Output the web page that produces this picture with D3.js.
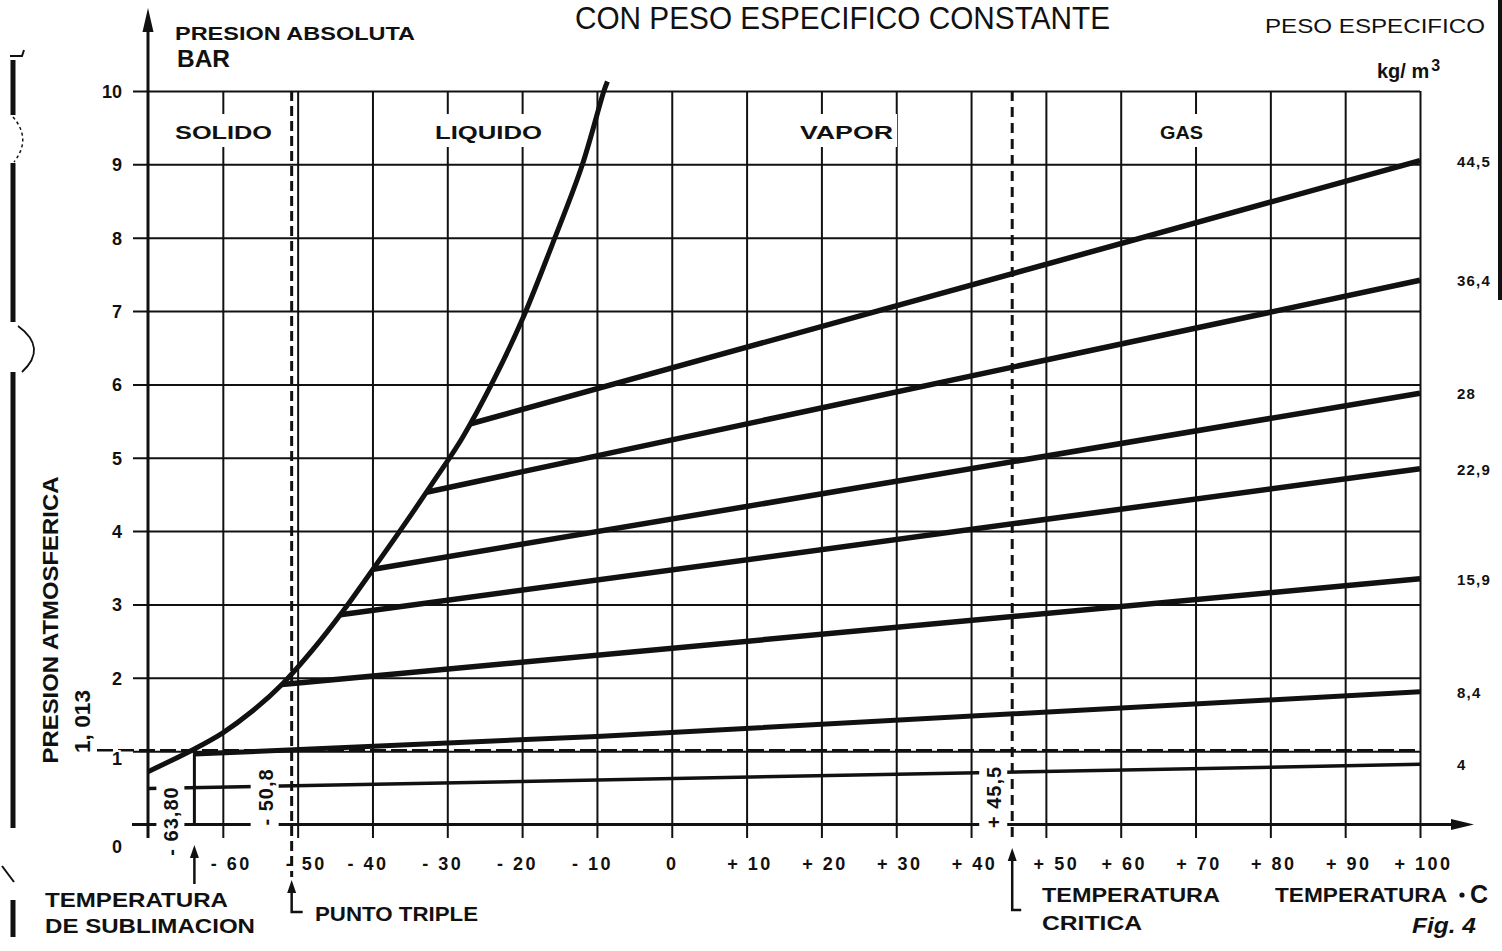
<!DOCTYPE html>
<html>
<head>
<meta charset="utf-8">
<script src="https://cdn.jsdelivr.net/npm/d3@7"></script>
<style>
  html, body { margin: 0; padding: 0; background: #fff; }
  svg { display: block; }
  text { font-family: "Liberation Sans", "DejaVu Sans", Arial, sans-serif; fill: #111; }
</style>
</head>
<body>
<svg id="chart" width="1502" height="951"></svg>
<script>
// Axis ticks: temperature (°C) and absolute pressure (bar)
const tempTicks  = [-60, -50, -40, -30, -20, -10, 0, 10, 20, 30, 40, 50, 60, 70, 80, 90, 100];
const pressTicks = [0, 1, 2, 3, 4, 5, 6, 7, 8, 9, 10];

// Sublimation / vapour-pressure curve, [°C, bar]
const satCurve = [
  [-70, 0.72], [-63.8, 1.03], [-60, 1.25], [-56, 1.55], [-52, 1.92],
  [-48, 2.38], [-44, 2.90], [-40, 3.47], [-36, 4.05], [-32, 4.65],
  [-28, 5.27], [-24, 6.02], [-20, 6.88], [-16, 7.90], [-12, 8.98],
  [-9.1, 9.99], [-8.6, 10.13]
];

// Lines of constant specific weight (kg/m3), [°C, bar]
const densityLabels = ["44,5", "36,4", "28", "22,9", "15,9", "8,4", "4"];
const iso445 = [[-27.0, 5.46], [100, 9.05]];
const iso364 = [[-32.8, 4.53], [100, 7.42]];
const iso28  = [[-39.9, 3.48], [100, 5.88]];
const iso229 = [[-44.3, 2.86], [100, 4.85]];
const iso159 = [[-52.1, 1.91], [100, 3.35]];
const iso84  = [[-63.8, 0.96], [-10, 1.20], [100, 1.81]];
const iso4   = [[-70, 0.49], [100, 0.82]];
const isoLines = [iso445, iso364, iso28, iso229, iso159, iso84, iso4];
const isoWidths = [5.5, 5.5, 5.5, 5.5, 5.5, 5, 3.5];

// Region names across the top band
const regions = ["SOLIDO", "LIQUIDO", "VAPOR", "GAS"];

// Characteristic temperatures (°C) and atmospheric pressure (bar)
const tSublimation = -63.8;
const tTriple = -50.8;
const tCritical = 45.5;
const pAtm = 1.013;
const tempMarks = ["- 63,80", "- 50,8", "+ 45,5"];

const ink = "#111";
const svg = d3.select("#chart");

const x = d3.scaleLinear().domain([-70, 100]).range([148, 1420]);
const y = d3.scaleLinear().domain([0, 10]).range([824.5, 91]);

const xLeft = x(-70), xRight = x(100), yTop = y(10), yZero = y(0);
const lineGen = d3.line().x(d => x(d[0])).y(d => y(d[1]));

// ---- page edge marks (binding side and right border) ----
const edge = svg.append("g").attr("stroke", ink).attr("fill", "none");
[[60, 115], [163, 322], [372, 828], [900, 937]].forEach(([a, b]) => {
  edge.append("line").attr("x1", 13).attr("x2", 13).attr("y1", a).attr("y2", b).attr("stroke-width", 5);
});
edge.append("path").attr("d", "M13,117 Q32,139 14,162").attr("stroke-width", 1.5).attr("stroke-dasharray", "3,3");
edge.append("path").attr("d", "M18,326 Q48,348 22,372").attr("stroke-width", 1.8);
edge.append("path").attr("d", "M10,56 L22,56 L24,50").attr("stroke-width", 2);
edge.append("path").attr("d", "M2,866 L14,882").attr("stroke-width", 2);
edge.append("line").attr("x1", 1500).attr("x2", 1500).attr("y1", 0).attr("y2", 300).attr("stroke-width", 4);

// ---- atmospheric pressure (dashed) ----
svg.append("line")
  .attr("x1", 97).attr("x2", xRight)
  .attr("y1", y(pAtm)).attr("y2", y(pAtm))
  .attr("stroke", ink).attr("stroke-width", 2.5).attr("stroke-dasharray", "16,5");

// ---- grid: vertical lines from the temperature axis ----
const fmtT = d => d < 0 ? "- " + (-d) : d === 0 ? "0" : "+ " + d;
const gx = svg.append("g")
  .attr("transform", `translate(0,${yZero + 13.5})`)
  .call(d3.axisBottom(x).tickValues(tempTicks)
    .tickSizeInner(-(yZero + 13.5 - yTop)).tickSizeOuter(0)
    .tickPadding(19).tickFormat(fmtT));
gx.select(".domain").remove();
gx.selectAll(".tick line").attr("stroke", ink).attr("stroke-width", 2);
gx.selectAll(".tick text")
  .attr("font-size", 18).attr("font-weight", "bold").attr("letter-spacing", 2.5)
  .attr("fill", ink)
  .attr("dx", d => (d === -60 || d === -50) ? 8 : d === 50 ? 10 : d < 0 ? -5 : d > 0 ? 3 : 0);

// ---- grid: horizontal lines from the pressure axis ----
const gy = svg.append("g")
  .attr("transform", `translate(${xLeft - 15},0)`)
  .call(d3.axisLeft(y).tickValues(pressTicks)
    .tickSizeInner(-(xRight - (xLeft - 15))).tickSizeOuter(0).tickPadding(11));
gy.select(".domain").remove();
gy.selectAll(".tick").filter(d => d === 0).select("line").remove();
gy.selectAll(".tick line").attr("stroke", ink).attr("stroke-width", 2);
gy.selectAll(".tick text")
  .attr("font-size", 18).attr("font-weight", "bold").attr("fill", ink)
  .attr("dy", d => d === 0 ? "1.55em" : d === 1 ? "0.76em" : "0.35em")
  .attr("stroke", "#fff").attr("stroke-width", 4).attr("paint-order", "stroke");

// ---- region names, with the grid cleared behind them ----
const regionX = [175, 435, 800, 1160];
const regionLen = [97, 107, 93, 43];
regions.forEach((r, i) => {
  svg.append("rect").attr("x", regionX[i] - 4).attr("y", 114)
    .attr("width", regionLen[i] + 8).attr("height", 33).attr("fill", "#fff");
  svg.append("text").attr("x", regionX[i]).attr("y", 138.5)
    .attr("font-size", 19).attr("font-weight", "bold")
    .attr("textLength", regionLen[i]).attr("lengthAdjust", "spacingAndGlyphs")
    .text(r);
});

// ---- main axes with arrows ----
svg.append("line").attr("x1", 132).attr("x2", 1458).attr("y1", yZero).attr("y2", yZero)
  .attr("stroke", ink).attr("stroke-width", 3);
svg.append("path").attr("d", `M1474,${yZero} L1451,${yZero - 5.5} L1451,${yZero + 5.5} Z`).attr("fill", ink);
svg.append("line").attr("x1", xLeft).attr("x2", xLeft).attr("y1", yZero + 13.5).attr("y2", 30)
  .attr("stroke", ink).attr("stroke-width", 3);
svg.append("path").attr("d", `M${xLeft},8 L${xLeft - 5.5},32 L${xLeft + 5.5},32 Z`).attr("fill", ink);

// ---- triple point and critical temperature (dashed verticals) ----
svg.append("line").attr("x1", x(tTriple)).attr("x2", x(tTriple)).attr("y1", yTop).attr("y2", 877)
  .attr("stroke", ink).attr("stroke-width", 3).attr("stroke-dasharray", "10,5");
svg.append("line").attr("x1", x(tCritical)).attr("x2", x(tCritical)).attr("y1", yTop).attr("y2", 837)
  .attr("stroke", ink).attr("stroke-width", 3).attr("stroke-dasharray", "10,6");

// ---- sublimation temperature: drop line to the axis ----
svg.append("line").attr("x1", x(tSublimation)).attr("x2", x(tSublimation))
  .attr("y1", y(pAtm)).attr("y2", yZero)
  .attr("stroke", ink).attr("stroke-width", 3);

// ---- lines of constant specific weight ----
svg.append("g").selectAll("path").data(isoLines).join("path")
  .attr("d", lineGen)
  .attr("fill", "none").attr("stroke", ink)
  .attr("stroke-width", (d, i) => isoWidths[i])
  .attr("stroke-linecap", "butt");

// ---- saturation curve ----
svg.append("path").datum(satCurve)
  .attr("d", d3.line().x(d => x(d[0])).y(d => y(d[1])).curve(d3.curveCatmullRom.alpha(0.5)))
  .attr("fill", "none").attr("stroke", ink).attr("stroke-width", 5);

// ---- vertical temperature marks written across the low lines ----
const markTemps = [tSublimation, tTriple, tCritical];
const markBase = [x(tSublimation) - 16, x(tTriple) - 19, x(tCritical) - 11];
const markCenter = [821, 797, 797];
markTemps.forEach((t, i) => {
  svg.append("rect")
    .attr("x", markBase[i] - 22).attr("y", markCenter[i] - 40)
    .attr("width", 28).attr("height", 80).attr("fill", "#fff");
  svg.append("text")
    .attr("transform", `translate(${markBase[i]},${markCenter[i]}) rotate(-90)`)
    .attr("text-anchor", "middle").attr("font-size", 20).attr("font-weight", "bold")
    .attr("letter-spacing", 1)
    .text(tempMarks[i]);
});

// ---- specific-weight labels at the right end of each line ----
svg.append("g").selectAll("text").data(isoLines).join("text")
  .attr("x", 1457)
  .attr("y", d => y(d[d.length - 1][1]) + 6)
  .attr("font-size", 15).attr("font-weight", "bold").attr("letter-spacing", 1.2)
  .text((d, i) => densityLabels[i]);

// ---- arrows pointing at the characteristic temperatures ----
function arrowUp(xp, tipY, path) {
  svg.append("path").attr("d", path).attr("fill", "none").attr("stroke", ink).attr("stroke-width", 2.5);
  svg.append("path").attr("d", `M${xp},${tipY} L${xp - 4.5},${tipY + 13} L${xp + 4.5},${tipY + 13} Z`).attr("fill", ink);
}
const xs = x(tSublimation), xt = x(tTriple), xc = x(tCritical);
arrowUp(xs, 845, `M${xs},884 L${xs},852`);
arrowUp(xt, 880, `M${xt + 11},912 L${xt},912 L${xt},887`);
arrowUp(xc, 848, `M${xc + 9},910 L${xc},910 L${xc},855`);

// ---- text ----
function label(txt, xp, yp, size, len, opts = {}) {
  const t = svg.append("text").attr("x", xp).attr("y", yp)
    .attr("font-size", size)
    .attr("font-weight", opts.weight || "bold")
    .attr("font-style", opts.style || "normal")
    .text(txt);
  if (len) t.attr("textLength", len).attr("lengthAdjust", opts.adjust || "spacingAndGlyphs");
  return t;
}

label("CON PESO ESPECIFICO CONSTANTE", 575, 29, 31, 535, { weight: "normal" });
label("PRESION ABSOLUTA", 175, 39.5, 19, 240);
label("BAR", 177, 67, 23, 53);
label("PESO ESPECIFICO", 1265, 33, 20, 220, { weight: "normal" });
const unit = svg.append("text").attr("x", 1377).attr("y", 78).attr("font-size", 20).attr("font-weight", "bold");
unit.append("tspan").text("kg/ m");
unit.append("tspan").attr("dy", -7).attr("dx", 2).attr("font-size", 16).text("3");

// rotated pressure captions on the left
svg.append("text")
  .attr("transform", "translate(58,620) rotate(-90)")
  .attr("text-anchor", "middle").attr("font-size", 22).attr("font-weight", "bold")
  .attr("textLength", 287).attr("lengthAdjust", "spacingAndGlyphs")
  .text("PRESION ATMOSFERICA");
svg.append("text")
  .attr("transform", "translate(90,721.5) rotate(-90)")
  .attr("text-anchor", "middle").attr("font-size", 22).attr("font-weight", "bold")
  .attr("textLength", 63).attr("lengthAdjust", "spacingAndGlyphs")
  .text("1, 013");

// captions under the temperature axis
label("TEMPERATURA", 45, 907, 21, 183);
label("DE SUBLIMACION", 45, 933, 21, 210);
label("PUNTO TRIPLE", 315, 921, 20, 163);
label("TEMPERATURA", 1042, 902, 20, 178);
label("CRITICA", 1042, 930, 20, 100);
label("TEMPERATURA", 1275, 902, 20, 172);
svg.append("circle").attr("cx", 1462).attr("cy", 895).attr("r", 2.6).attr("fill", ink);
label("C", 1470, 903, 25, null);
label("Fig. 4", 1412, 933, 22, 64, { style: "italic" });
</script>
</body>
</html>
